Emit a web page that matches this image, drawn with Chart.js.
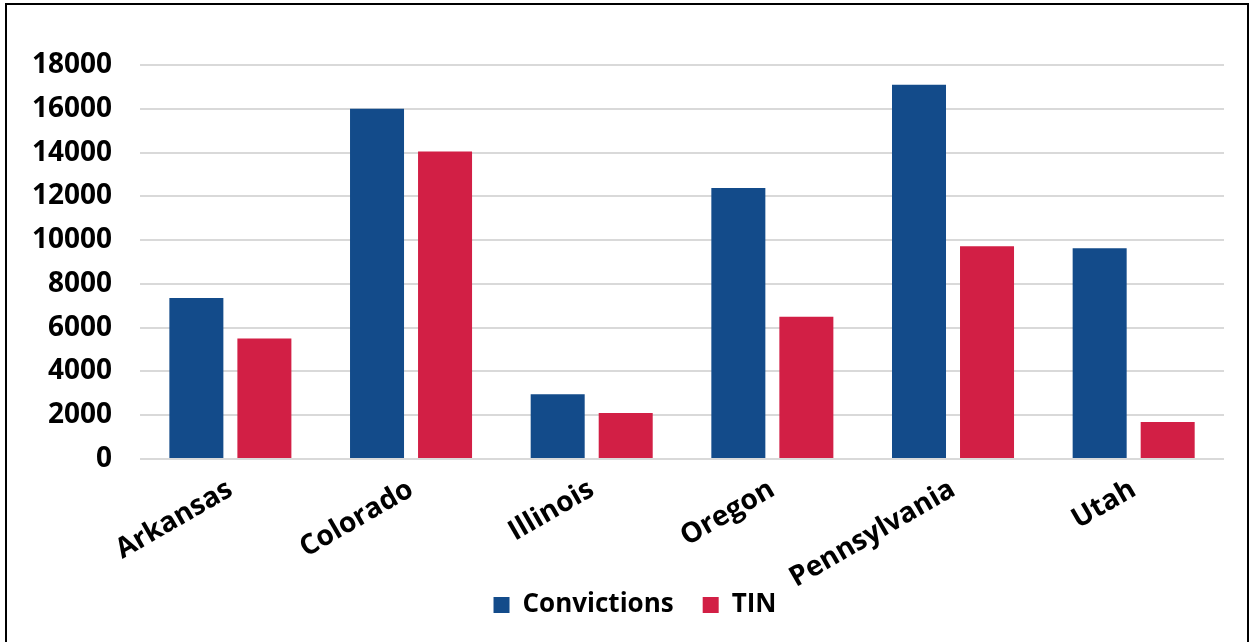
<!DOCTYPE html>
<html>
<head>
<meta charset="utf-8">
<script src="https://cdn.jsdelivr.net/npm/chart.js@4/dist/chart.umd.min.js"></script>
<style>
  html, body { margin: 0; padding: 0; background: #fff; }
  #wrap { position: relative; width: 1253px; height: 642px; }
  #frame { position: absolute; left: 5px; top: 3px; width: 1244px; height: 660px; border: 2px solid #000; box-sizing: border-box; pointer-events: none; }
  canvas { position: absolute; left: 0; top: 0; }
</style>
</head>
<body>
<div id="wrap">
  <canvas id="c" width="1253" height="642"></canvas>
  <div id="frame"></div>
</div>
<script>
const categories = ["Arkansas", "Colorado", "Illinois", "Oregon", "Pennsylvania", "Utah"];
const convictions = [7350, 16000, 2950, 12380, 17100, 9630];
const tin = [5500, 14050, 2100, 6490, 9720, 1690];
const yTicks = [0, 2000, 4000, 6000, 8000, 10000, 12000, 14000, 16000, 18000];

const FONT = "'Open Sans', 'Noto Sans', sans-serif";
const LEG_CUT = 38;
const LEG_SHIFT_X = 21;

const legendTweak = {
  id: 'legendTweak',
  beforeInit(chart) {
    const lg = chart.legend;
    if (!lg) return;
    const fit = lg.fit;
    lg.fit = function () { fit.call(this); this.height -= LEG_CUT; };
    const draw = lg.draw;
    lg.draw = function () {
      const t = this.top, l = this.left, r = this.right;
      this.top = t - LEG_CUT;
      this.left = l + LEG_SHIFT_X;
      this.right = r + LEG_SHIFT_X;
      draw.apply(this, arguments);
      this.top = t; this.left = l; this.right = r;
    };
  }
};

new Chart(document.getElementById('c'), {
  type: 'bar',
  data: {
    labels: categories,
    datasets: [
      { label: 'Convictions', data: convictions, backgroundColor: '#134B8A', borderWidth: 0 },
      { label: 'TIN', data: tin, backgroundColor: '#D21F45', borderWidth: 0 }
    ]
  },
  plugins: [legendTweak],
  options: {
    responsive: false,
    animation: false,
    devicePixelRatio: 1,
    datasets: { bar: { categoryPercentage: 0.753, barPercentage: 0.794 } },
    layout: { padding: { left: 4, right: 29, top: 65, bottom: 14 } },
    plugins: {
      legend: {
        position: 'bottom',
        labels: {
          font: { family: FONT, size: 26, weight: 'bold' },
          color: '#000',
          boxWidth: 16, boxHeight: 16,
          padding: 29
        }
      },
      tooltip: { enabled: false }
    },
    scales: {
      x: {
        grid: { display: false },
        border: { display: false },
        ticks: {
          font: { family: FONT, size: 28, weight: 'bold' },
          color: '#000',
          maxRotation: 30, minRotation: 30,
          padding: 6
        }
      },
      y: {
        min: 0, max: 18000,
        afterBuildTicks: (axis) => { axis.ticks = yTicks.map(v => ({ value: v })); },
        grid: { color: '#d9d9d9', lineWidth: 2, drawTicks: false },
        border: { display: false },
        ticks: {
          font: { family: FONT, size: 28, weight: 'bold' },
          color: '#000',
          padding: 28,
          callback: (v) => String(v)
        }
      }
    }
  }
});
</script>
</body>
</html>
